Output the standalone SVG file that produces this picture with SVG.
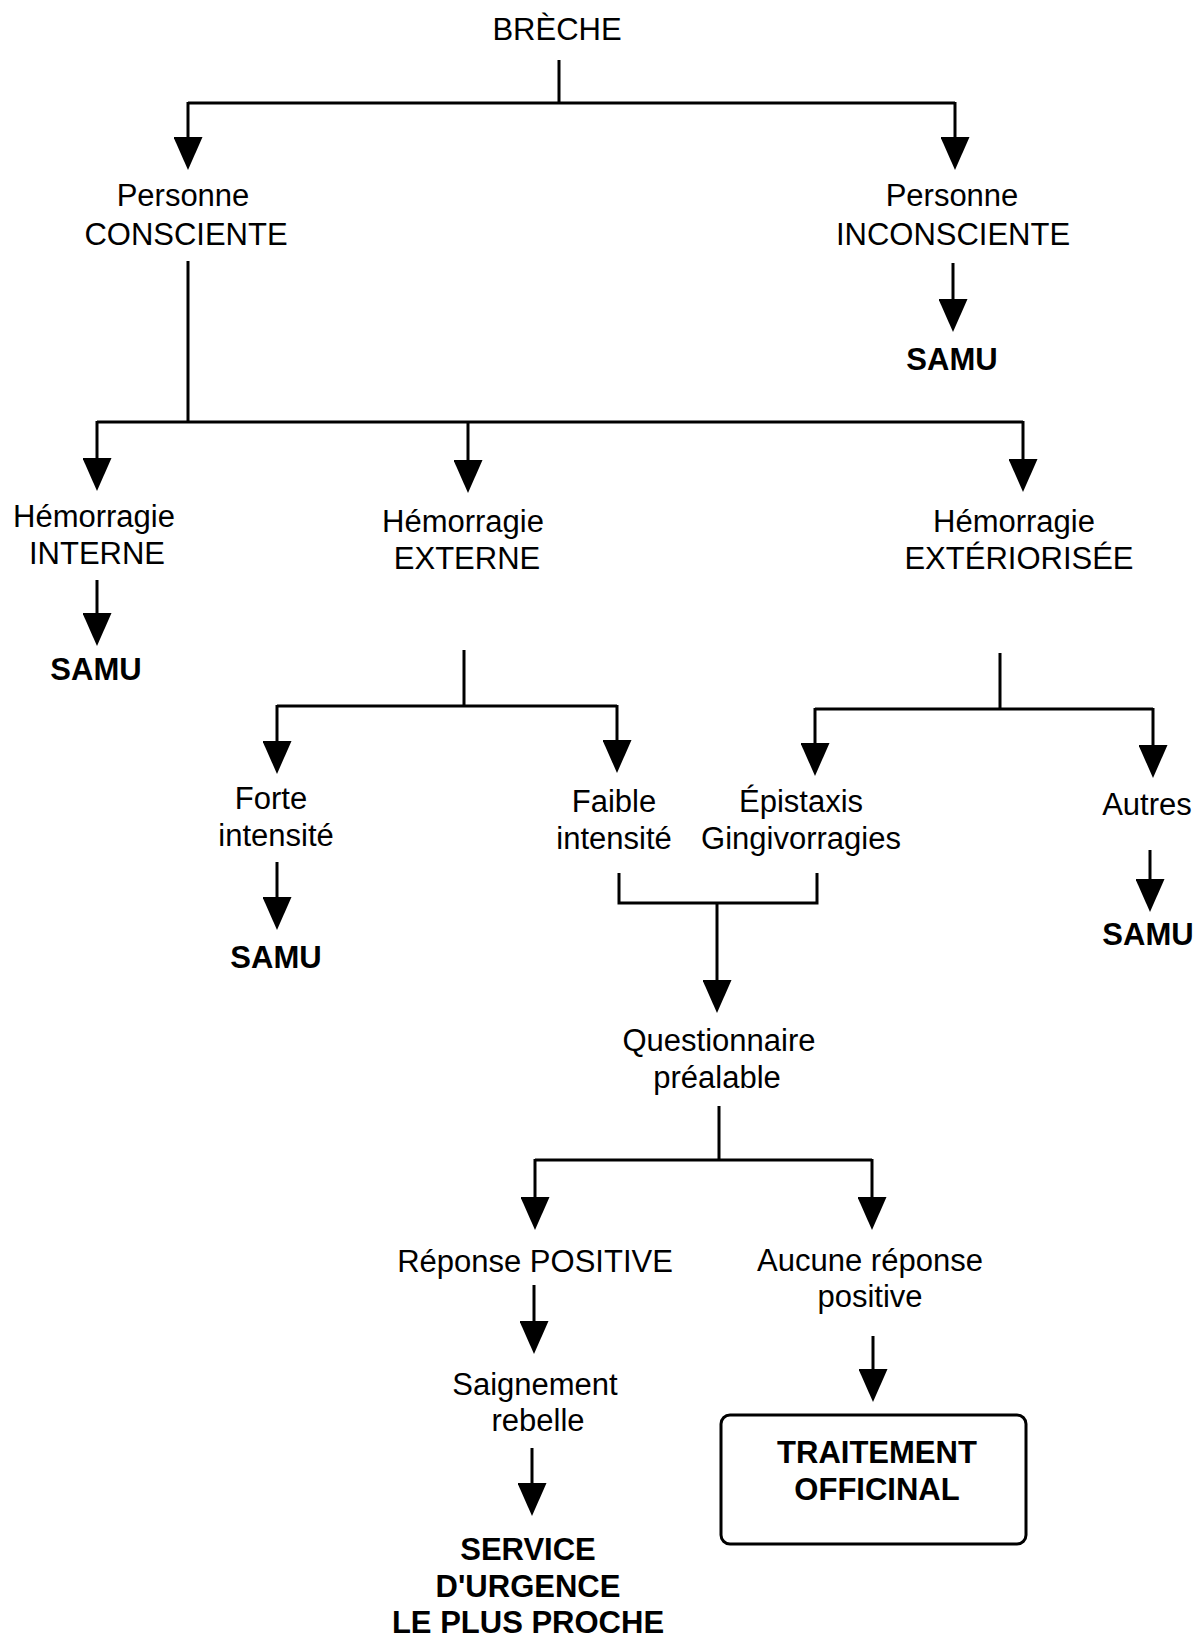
<svg xmlns="http://www.w3.org/2000/svg" width="1199" height="1639" viewBox="0 0 1199 1639">
<style>
text{font-family:"Liberation Sans",Arial,Helvetica,sans-serif;font-size:31px;fill:#000;text-anchor:middle}
.b{font-weight:bold}
.c{fill:none;stroke:#000;stroke-width:3}
.box{fill:#fff;stroke:#000;stroke-width:3}
</style>
<defs>
<marker id="ah" markerUnits="userSpaceOnUse" viewBox="0 0 33 29" markerWidth="33" markerHeight="29" refX="0" refY="14.5" orient="auto">
<path d="M0,0 L33,14.5 L0,29 Z" fill="#000"/>
</marker>
</defs>
<rect width="1199" height="1639" fill="#fff"/>
<g id="connectors">
<path class="c" d="M559,60 V103 M188,103 H955"/>
<path class="c" d="M188,102 V137" marker-end="url(#ah)"/>
<path class="c" d="M955,102 V137" marker-end="url(#ah)"/>
<path class="c" d="M953,263 V299" marker-end="url(#ah)"/>
<path class="c" d="M188,261 V422 M97,422 H1023"/>
<path class="c" d="M97,421 V458" marker-end="url(#ah)"/>
<path class="c" d="M468,421 V460" marker-end="url(#ah)"/>
<path class="c" d="M1023,421 V459" marker-end="url(#ah)"/>
<path class="c" d="M97,580 V613" marker-end="url(#ah)"/>
<path class="c" d="M464,650 V706 M277,706 H617"/>
<path class="c" d="M277,705 V741" marker-end="url(#ah)"/>
<path class="c" d="M617,705 V740" marker-end="url(#ah)"/>
<path class="c" d="M1000,653 V709 M815,709 H1153"/>
<path class="c" d="M815,708 V743" marker-end="url(#ah)"/>
<path class="c" d="M1153,708 V745" marker-end="url(#ah)"/>
<path class="c" d="M277,862 V897" marker-end="url(#ah)"/>
<path class="c" d="M1150,850 V879" marker-end="url(#ah)"/>
<path class="c" d="M619,873 V903 H817 V873"/>
<path class="c" d="M717,903 V980" marker-end="url(#ah)"/>
<path class="c" d="M719,1106 V1160 M535,1160 H872"/>
<path class="c" d="M535,1159 V1197" marker-end="url(#ah)"/>
<path class="c" d="M872,1159 V1197" marker-end="url(#ah)"/>
<path class="c" d="M534,1285 V1321" marker-end="url(#ah)"/>
<path class="c" d="M532,1448 V1483" marker-end="url(#ah)"/>
<path class="c" d="M873,1336 V1369" marker-end="url(#ah)"/>
</g>
<g id="breche"><text x="557" y="40">BRÈCHE</text></g>
<g id="consciente"><text x="183" y="206">Personne</text><text x="186" y="245">CONSCIENTE</text></g>
<g id="inconsciente"><text x="952" y="206">Personne</text><text x="953" y="245">INCONSCIENTE</text></g>
<g id="samu1"><text class="b" x="952" y="370">SAMU</text></g>
<g id="interne"><text x="94" y="527">Hémorragie</text><text x="97" y="564">INTERNE</text></g>
<g id="samu2"><text class="b" x="96" y="680">SAMU</text></g>
<g id="externe"><text x="463" y="532">Hémorragie</text><text x="467" y="569">EXTERNE</text></g>
<g id="exteriorisee"><text x="1014" y="532">Hémorragie</text><text x="1019" y="569">EXTÉRIORISÉE</text></g>
<g id="forte"><text x="271" y="809">Forte</text><text x="276" y="846">intensité</text></g>
<g id="samu3"><text class="b" x="276" y="968">SAMU</text></g>
<g id="faible"><text x="614" y="812">Faible</text><text x="614" y="849">intensité</text></g>
<g id="epistaxis"><text x="801" y="812">Épistaxis</text><text x="801" y="849">Gingivorragies</text></g>
<g id="autres"><text x="1147" y="815">Autres</text></g>
<g id="samu4"><text class="b" x="1148" y="945">SAMU</text></g>
<g id="questionnaire"><text x="719" y="1051">Questionnaire</text><text x="717" y="1088">préalable</text></g>
<g id="positive"><text x="535" y="1272">Réponse POSITIVE</text></g>
<g id="aucune"><text x="870" y="1271">Aucune réponse</text><text x="870" y="1307">positive</text></g>
<g id="saignement"><text x="535" y="1395">Saignement</text><text x="538" y="1431">rebelle</text></g>
<g id="service"><text class="b" x="528" y="1560">SERVICE</text><text class="b" x="528" y="1597">D'URGENCE</text><text class="b" x="528" y="1633">LE PLUS PROCHE</text></g>
<g id="traitement"><rect class="box" x="721" y="1415" width="305" height="129" rx="9"/><text class="b" x="877" y="1463">TRAITEMENT</text><text class="b" x="877" y="1500">OFFICINAL</text></g>
</svg>
